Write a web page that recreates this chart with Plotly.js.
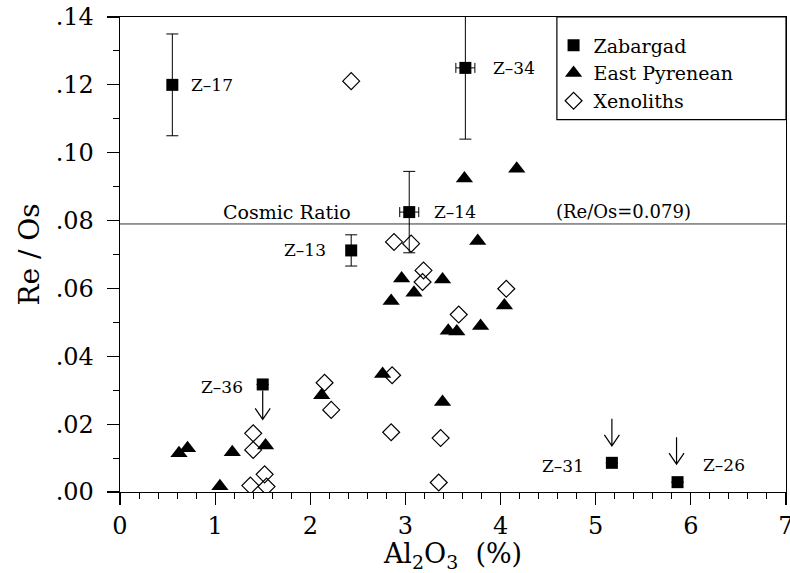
<!DOCTYPE html>
<html>
<head>
<meta charset="utf-8">
<script src="https://cdn.plot.ly/plotly-3.0.1.min.js"></script>
<style>html,body{margin:0;padding:0;background:#fff;}#chart{width:790px;height:573px;}</style>
</head>
<body>
<div id="chart"></div>
<script>
// ---- data ----
const zabX = [0.55, 3.63, 3.04, 2.43, 1.50, 5.17, 5.86];
const zabY = [0.120, 0.125, 0.0825, 0.0712, 0.0317, 0.0086, 0.0029];
const zabLabels = ['Z–17', 'Z–34', 'Z–14', 'Z–13', 'Z–36', 'Z–31', 'Z–26'];
const zabErrY = [0.015, 0.021, 0.012, 0.0046, 0, 0, 0];
const zabErrX = [0, 0.1, 0.1, 0.03, 0, 0, 0];

const pyrX = [0.62, 0.71, 1.05, 1.18, 1.53, 2.12, 2.76, 2.85, 2.96, 3.09, 3.39, 3.39, 3.45, 3.54, 3.62, 3.76, 3.79, 4.04, 4.17];
const pyrY = [0.0114, 0.0129, 0.0017, 0.0117, 0.0137, 0.0285, 0.0348, 0.0563, 0.0629, 0.0587, 0.0265, 0.0626, 0.0475, 0.0473, 0.0924, 0.0740, 0.0489, 0.0550, 0.0953];

const xenX = [2.43, 2.88, 3.06, 3.19, 3.18, 4.06, 3.56, 2.86, 2.15, 2.22, 2.85, 3.37, 3.35, 1.40, 1.40, 1.52, 1.54, 1.37];
const xenY = [0.1211, 0.0737, 0.0732, 0.0653, 0.0619, 0.0599, 0.0523, 0.0344, 0.0322, 0.0242, 0.0176, 0.0159, 0.0028, 0.0173, 0.0124, 0.0052, 0.0016, 0.0019];

const seriesNames = ['Zabargad', 'East Pyrenean', 'Xenoliths'];
const cosmicRatio = [0.079];
const cosmicText = ['Cosmic Ratio', '(Re/Os=0.079)'];

const xTickVals = [0, 1, 2, 3, 4, 5, 6, 7];
const xTickText = ['0', '1', '2', '3', '4', '5', '6', '7'];
const yTickVals = [0, 0.02, 0.04, 0.06, 0.08, 0.10, 0.12, 0.14];
const yTickText = ['.00', '.02', '.04', '.06', '.08', '.10', '.12', '.14'];

// ---- styling / placement (not data) ----
const FONT = 'DejaVu Serif';
const labelPlacement = [
  {anchor: 'left', dx: 17, dy: 0},
  {anchor: 'left', dx: 26, dy: 0},
  {anchor: 'left', dx: 23, dy: 0},
  {anchor: 'right', dx: -23, dy: 0},
  {anchor: 'right', dx: -18, dy: -3},
  {anchor: 'right', dx: -26, dy: -3},
  {anchor: 'left', dx: 23, dy: 17}
];
const arrowSpecs = [
  {i: 4, dx: 0, from: -6, to: -35},
  {i: 5, dx: 0, from: 44, to: 17},
  {i: 6, dx: -1, from: 45, to: 18}
];

const traces = [
  {
    x: zabX, y: zabY, type: 'scatter', mode: 'markers', name: seriesNames[0],
    marker: {symbol: 'square', size: 12, color: '#000'},
    error_y: {type: 'data', array: zabErrY, visible: true, color: '#000', thickness: 1, width: 6},
    error_x: {type: 'data', array: zabErrX, visible: true, color: '#000', thickness: 1, width: 5},
    hoverinfo: 'skip'
  },
  {
    x: pyrX, y: pyrY, type: 'scatter', mode: 'markers', name: seriesNames[1],
    marker: {symbol: 'triangle-up', size: 15, color: '#000'},
    hoverinfo: 'skip'
  },
  {
    x: xenX, y: xenY, type: 'scatter', mode: 'markers', name: seriesNames[2],
    marker: {symbol: 'diamond-open', size: 13, color: '#000', line: {width: 1.2, color: '#000'}},
    hoverinfo: 'skip'
  }
];

const annotations = zabLabels.map((t, i) => ({
  x: zabX[i], y: zabY[i], xref: 'x', yref: 'y', text: t, showarrow: false,
  xanchor: labelPlacement[i].anchor, yanchor: 'middle',
  xshift: labelPlacement[i].dx, yshift: labelPlacement[i].dy,
  font: {family: FONT, size: 17, color: '#000'}
}));
annotations.push({
  x: 1.76, y: cosmicRatio[0], xref: 'x', yref: 'y', text: cosmicText[0], showarrow: false,
  xanchor: 'center', yanchor: 'middle', yshift: 12, font: {family: FONT, size: 19, color: '#000'}
});
annotations.push({
  x: 5.29, y: cosmicRatio[0], xref: 'x', yref: 'y', text: cosmicText[1], showarrow: false,
  xanchor: 'center', yanchor: 'middle', yshift: 12, font: {family: FONT, size: 18, color: '#000'}
});

const shapes = [
  {type: 'line', xref: 'paper', x0: 0, x1: 1, yref: 'y', y0: cosmicRatio[0], y1: cosmicRatio[0],
   line: {color: '#333', width: 1}, layer: 'below'},
  {type: 'rect', xref: 'paper', yref: 'paper', x0: 0.656, x1: 1, y0: 0.784, y1: 1,
   line: {color: '#000', width: 1.2}, fillcolor: 'rgba(255,255,255,0)', layer: 'above'}
];
arrowSpecs.forEach(a => {
  const tip = a.to;
  shapes.push({
    type: 'path', xref: 'x', yref: 'y', xsizemode: 'pixel', ysizemode: 'pixel',
    xanchor: zabX[a.i], yanchor: zabY[a.i],
    path: `M${a.dx},${a.from} L${a.dx},${tip} M${a.dx - 7.5},${tip + 11} L${a.dx},${tip} L${a.dx + 7.5},${tip + 11}`,
    line: {color: '#000', width: 1.2}
  });
});

const axisCommon = {
  showgrid: false, zeroline: false, showline: true, linecolor: '#000', linewidth: 1.3,
  mirror: true, ticks: 'outside', ticklen: 12, tickwidth: 1.2, tickcolor: '#000',
  tickfont: {family: FONT, size: 24, color: '#000'}, tickmode: 'array', fixedrange: true,
  ticklabeloverflow: 'allow'
};

const layout = {
  width: 790, height: 573,
  margin: {l: 120, r: 4, t: 17, b: 81},
  paper_bgcolor: '#fff', plot_bgcolor: '#fff',
  font: {family: FONT, color: '#000'},
  showlegend: true,
  legend: {
    x: 0.651, y: 0.98, xanchor: 'left', yanchor: 'top',
    bgcolor: 'rgba(0,0,0,0)', borderwidth: 0,
    font: {family: FONT, size: 19, color: '#000'}, itemwidth: 30
  },
  xaxis: Object.assign({}, axisCommon, {
    range: [0, 7], tickvals: xTickVals, ticktext: xTickText,
    minor: {dtick: 0.2, ticks: 'outside', ticklen: 6, tickwidth: 1, tickcolor: '#000'},
    title: {text: 'Al<sub>2</sub>O<sub>3</sub>  (%)', font: {family: FONT, size: 27, color: '#000'}, standoff: 4}
  }),
  yaxis: Object.assign({}, axisCommon, {
    range: [0, 0.14], tickvals: yTickVals, ticktext: yTickText,
    minor: {dtick: 0.01, ticks: 'outside', ticklen: 6, tickwidth: 1, tickcolor: '#000'},
    ticklabelstandoff: 8,
    title: {text: 'Re / Os', font: {family: FONT, size: 28, color: '#000'}, standoff: 8}
  }),
  annotations: annotations,
  shapes: shapes
};

Plotly.newPlot('chart', traces, layout, {staticPlot: true, displayModeBar: false});
</script>
</body>
</html>
